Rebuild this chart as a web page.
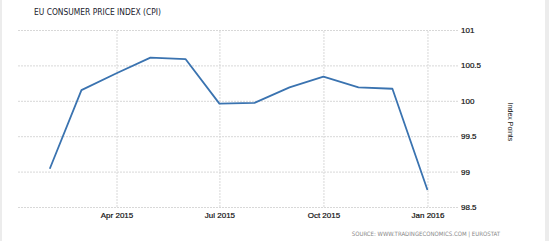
<!DOCTYPE html>
<html>
<head>
<meta charset="utf-8">
<script src="https://cdn.jsdelivr.net/npm/d3@7"></script>
<style>
  body { margin: 0; background: #fff; }
  svg { display: block; }
</style>
</head>
<body>
<script>
const {select, scaleTime, scaleLinear, axisBottom, axisRight, line, timeParse, timeFormat} = d3;

const width = 550;
const height = 241;

// monthly CPI readings
const months = ["2015-02", "2015-03", "2015-04", "2015-05", "2015-06", "2015-07",
                "2015-08", "2015-09", "2015-10", "2015-11", "2015-12", "2016-01"];
const values = [99.04, 100.15, 100.39, 100.61, 100.59, 99.96,
                99.97, 100.19, 100.34, 100.19, 100.17, 98.74];
const xTicks = ["2015-04", "2015-07", "2015-10", "2016-01"];
const yTicks = [98.5, 99, 99.5, 100, 100.5, 101];

const parse = timeParse("%Y-%m");
const data = months.map((m, i) => ({date: parse(m), value: values[i]}));

const plot = {left: 17, right: 458, top: 30, bottom: 207};

const svg = select("body")
    .append("svg")
    .attr("width", width)
    .attr("height", height);

// light side borders
svg.append("rect").attr("x", 0).attr("y", 0).attr("width", 2).attr("height", height).attr("fill", "#ececec");
svg.append("rect").attr("x", 545).attr("y", 0).attr("width", 4).attr("height", height).attr("fill", "#ececec");

const x = scaleTime()
    .domain([new Date(2015, 0, 3), new Date(2016, 0, 28)])
    .range([plot.left, plot.right]);

const y = scaleLinear()
    .domain([98.5, 101])
    .range([plot.bottom, plot.top]);

const xAxis = svg.append("g")
    .attr("transform", `translate(0,${plot.bottom})`)
    .call(axisBottom(x)
        .tickValues(xTicks.map(parse))
        .tickSize(-(plot.bottom - plot.top))
        .tickPadding(5)
        .tickFormat(timeFormat("%b %Y")));

const yAxis = svg.append("g")
    .attr("transform", `translate(${plot.right},0)`)
    .call(axisRight(y)
        .tickValues(yTicks)
        .tickSize(-(plot.right - plot.left))
        .tickPadding(3)
        .tickFormat(d => d));

[xAxis, yAxis].forEach(g => {
    g.select(".domain").remove();
    g.selectAll(".tick line")
        .attr("stroke", "#d8d8d8")
        .attr("stroke-dasharray", "2,1");
    g.selectAll(".tick text")
        .attr("fill", "#111")
        .attr("stroke", "#111")
        .attr("stroke-width", 0.2)
        .style("font-family", "'Liberation Sans', Arial, sans-serif")
        .style("font-size", "8px");
});

svg.append("path")
    .datum(data)
    .attr("fill", "none")
    .attr("stroke", "#3a73b0")
    .attr("stroke-width", 1.8)
    .attr("stroke-linejoin", "round")
    .attr("d", line().x(d => x(d.date)).y(d => y(d.value)));

svg.append("text")
    .attr("x", 34)
    .attr("y", 15)
    .attr("fill", "#22222e")
    .style("font-family", "'Liberation Sans Narrow', 'Arial Narrow', 'DejaVu Sans Condensed', sans-serif")
    .style("font-size", "8.4px")
    .text("EU CONSUMER PRICE INDEX (CPI)");

svg.append("text")
    .attr("transform", "translate(508,122) rotate(90)")
    .attr("text-anchor", "middle")
    .attr("fill", "#111")
    .style("font-family", "'Liberation Sans', Arial, sans-serif")
    .style("font-size", "7px")
    .text("Index Points");

svg.append("text")
    .attr("x", 500)
    .attr("y", 236)
    .attr("text-anchor", "end")
    .attr("fill", "#888")
    .style("font-family", "'Liberation Sans Narrow', 'Arial Narrow', 'DejaVu Sans Condensed', sans-serif")
    .style("font-size", "6px")
    .text("SOURCE: WWW.TRADINGECONOMICS.COM | EUROSTAT");
</script>
</body>
</html>
